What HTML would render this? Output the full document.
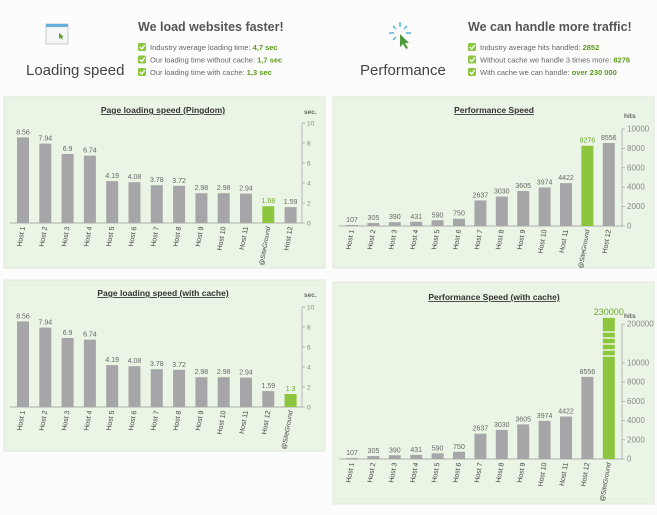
<!DOCTYPE html>
<html><head><meta charset="utf-8"><style>
body{margin:0;background:#fff;font-family:"Liberation Sans",sans-serif;}
svg{display:block}
</style></head><body>
<svg id="s" width="657" height="515" xmlns="http://www.w3.org/2000/svg" font-family="Liberation Sans, sans-serif">
<rect width="657" height="515" fill="#fcfcfc"/>
<g>
<rect x="46" y="24" width="22" height="20" fill="#f4f6f8" stroke="#c8ccd0"/>
<rect x="46" y="24" width="22" height="3" fill="#6aaedc"/>
<path d="M59 33 l0 6 l1.5 -1.5 l1.5 2 l1 -0.5 l-1.2 -2 l2 0 z" fill="#5a9a2a"/>
</g>
<text x="26" y="75" font-size="15" fill="#444">Loading speed</text>
<text x="138" y="31" font-size="12.5" font-weight="bold" fill="#555">We load websites faster!</text>
<g stroke="#4fb8d8" stroke-width="1.5">
<line x1="400" y1="22" x2="400" y2="27"/><line x1="389" y1="33" x2="394" y2="33"/><line x1="406" y1="33" x2="411" y2="33"/>
<line x1="393" y1="26" x2="396" y2="29"/><line x1="407" y1="26" x2="404" y2="29"/><line x1="393" y1="40" x2="396" y2="37"/>
<path d="M400 34 l0 13 l3 -3 l3 5 l2 -1 l-3 -5 l4 0 z" fill="#4a9a3a" stroke="none"/>
</g>
<text x="360" y="75" font-size="15" fill="#444">Performance</text>
<text x="468" y="31" font-size="12.5" font-weight="bold" fill="#555">We can handle more traffic!</text>
<g id="bullets"></g>
<g id="charts"></g>
</svg>
<script>
const NS="http://www.w3.org/2000/svg";
function mk(p,tag,attrs,txt){const e=document.createElementNS(NS,tag);for(const k in attrs)e.setAttribute(k,attrs[k]);if(txt!==undefined)e.textContent=txt;p.appendChild(e);return e;}
const bulletsLeft=[["Industry average loading time: ","4,7 sec"],["Our loading time without cache: ","1,7 sec"],["Our loading time with cache: ","1,3 sec"]];
const bulletsRight=[["Industry average hits handled: ","2852"],["Without cache we handle 3 times more: ","8276"],["With cache we can handle: ","over 230 000"]];
const bg=document.getElementById('bullets');
function bullets(list,x){list.forEach((b,i)=>{const y=50+i*12.5;
 const g=mk(bg,'g',{});
 
 
 mk(g,'rect',{x:x,y:y-7,width:8,height:8,rx:1.5,fill:'#8cc63f'});
 mk(g,'path',{d:`M${x+1.8} ${y-3} l2 2 l3 -4`,stroke:'#fff','stroke-width':1.3,fill:'none'});
 const t=mk(g,'text',{x:x+12,y:y,'font-size':7.5,fill:'#666'});
 mk(t,'tspan',{},b[0]);mk(t,'tspan',{fill:'#5a9a1a','font-weight':'bold'},b[1]);});}
bullets(bulletsLeft,138);bullets(bulletsRight,468);

const cats1=["Host 1","Host 2","Host 3","Host 4","Host 5","Host 6","Host 7","Host 8","Host 9","Host 10","Host 11","@SiteGround","Host 12"];
const vals1=[8.56,7.94,6.9,6.74,4.19,4.08,3.78,3.72,2.98,2.98,2.94,1.68,1.59];
const cats3=["Host 1","Host 2","Host 3","Host 4","Host 5","Host 6","Host 7","Host 8","Host 9","Host 10","Host 11","Host 12","@SiteGround"];
const vals3=[8.56,7.94,6.9,6.74,4.19,4.08,3.78,3.72,2.98,2.98,2.94,1.59,1.3];
const cats2=["Host 1","Host 2","Host 3","Host 4","Host 5","Host 6","Host 7","Host 8","Host 9","Host 10","Host 11","@SiteGround","Host 12"];
const vals2=[107,305,390,431,590,750,2637,3030,3605,3974,4422,8276,8556];
const cats4=["Host 1","Host 2","Host 3","Host 4","Host 5","Host 6","Host 7","Host 8","Host 9","Host 10","Host 11","Host 12","@SiteGround"];
const vals4=[107,305,390,431,590,750,2637,3030,3605,3974,4422,8556,230000];
const ticksSec=[0,2,4,6,8,10];
const ticksHits=[0,2000,4000,6000,8000,10000];
const ticksHitsCache=[0,2000,4000,6000,8000,10000,200000];

const cg=document.getElementById('charts');
function chart(o){
 const g=mk(cg,'g',{});
 
 
 const p=mk(g,'rect',{x:o.px,y:o.py,width:o.pw,height:o.ph,fill:'#ebf5e5',stroke:'#dfe8da'});
 
 
 const t=mk(g,'text',{x:o.tx,y:o.ty,'font-size':8.5,'font-weight':'bold','text-anchor':'middle',fill:'#333','text-decoration':'underline'},o.title);
 
 
 const u=mk(g,'text',{x:o.ax+2,y:o.uy,'font-size':6.5,'font-weight':'bold',fill:'#666'},o.unit);
 
 
 mk(g,'line',{x1:o.ax,x2:o.ax,y1:o.y(o.ticks[o.ticks.length-1]),y2:o.base,stroke:'#aaa','stroke-width':0.8});
 mk(g,'line',{x1:o.x(0)-o.step/2-2,x2:o.ax,y1:o.base,y2:o.base,stroke:'#999','stroke-width':0.8});
 o.ticks.forEach(v=>{const y=o.y(v);
  mk(g,'line',{x1:o.ax,x2:o.ax+3,y1:y,y2:y,stroke:'#aaa','stroke-width':0.8});
  const tl=mk(g,'text',{x:o.ax+5,y:y+2.5,'font-size':o.tfs,fill:'#888'},v);
  
  });
 o.cats.forEach((c,i)=>{const v=o.vals[i];const cx=o.x(i);const top=o.y(v);const green=c==='@SiteGround';
  const b=mk(g,'rect',{x:cx-o.bw/2,y:top,width:o.bw,height:o.base-top,fill:green?'#8cc63f':'#a6a6a8'});
  
  
  if(green&&v>10000){const y10=o.y(10000);[7,13,19,25,31].forEach(d=>{const yy=y10-d;mk(g,'line',{x1:cx-o.bw/2,x2:cx+o.bw/2,y1:yy,y2:yy,stroke:'#fff','stroke-width':1.2});});}
  const vl=mk(g,'text',{x:cx,y:top-3,'font-size':green&&v>10000?9:7,'text-anchor':'middle',fill:green?'#6aaa2a':'#666'},v);
  
  
  const lb=mk(g,'text',{x:0,y:0,'font-size':green?6.5:7,'text-anchor':'end',fill:'#444','font-style':green?'italic':'normal',transform:`translate(${cx+2},${o.base+4}) rotate(-80)`},c);
  
  
 });
}
function lin(base,topY,max){return v=>base-(v/max)*(base-topY);}
chart({name:'page-loading-speed-chart',px:4,py:97,pw:321,ph:171,tx:163,ty:113,title:'Page loading speed (Pingdom)',unit:'sec.',uy:114,ax:302,base:223,
 y:lin(223,123,10),x:i=>23+i*22.3,step:22.3,bw:12,cats:cats1,vals:vals1,ticks:ticksSec,tfs:6.5});
chart({name:'page-loading-speed-cache-chart',px:4,py:280,pw:321,ph:171,tx:163,ty:296,title:'Page loading speed (with cache)',unit:'sec.',uy:297,ax:302,base:407,
 y:lin(407,307,10),x:i=>23+i*22.3,step:22.3,bw:12,cats:cats3,vals:vals3,ticks:ticksSec,tfs:6.5});
chart({name:'performance-speed-chart',px:333,py:97,pw:321,ph:171,tx:494,ty:113,title:'Performance Speed',unit:'hits',uy:118,ax:622,base:226,
 y:lin(226,129,10000),x:i=>352+i*21.4,step:21.4,bw:12,cats:cats2,vals:vals2,ticks:ticksHits,tfs:8});
chart({name:'performance-speed-cache-chart',px:333,py:282,pw:321,ph:222,tx:494,ty:300,title:'Performance Speed (with cache)',unit:'hits',uy:318,ax:622,base:459,
 y:v=>v<=10000?459-v/10000*96:363-(v-10000)/190000*39,x:i=>352+i*21.4,step:21.4,bw:12,cats:cats4,vals:vals4,ticks:ticksHitsCache,tfs:8});
</script>
</body></html>
